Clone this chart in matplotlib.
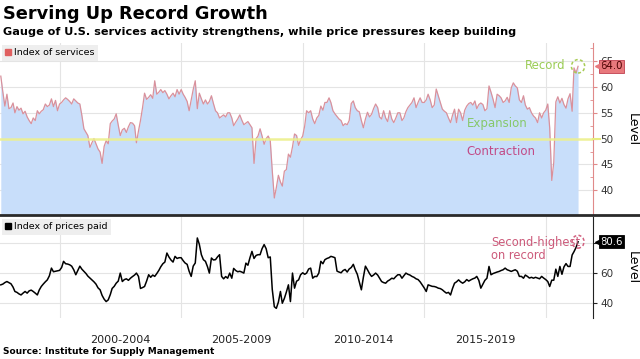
import pandas as pd
import matplotlib
matplotlib.use("Agg")
import matplotlib.pyplot as plt
import matplotlib.dates as mdates
from matplotlib.lines import Line2D
from matplotlib.patches import Ellipse

# monthly readings, Aug 1997 - May 2021
start_month = "1997-08-01"
services_index = [
    62.1, 59.0, 56.3, 58.6, 55.8,
    56.0, 56.9, 55.0, 56.2, 55.5, 55.9, 54.8, 55.3, 54.2, 53.5, 52.9, 54.0,
    53.5, 55.4, 54.8, 55.3, 55.6, 56.7, 56.2, 56.5, 57.7, 56.2, 57.4, 55.4,
    56.7, 57.0, 57.5, 57.9, 57.6, 57.2, 56.7, 57.7, 57.3, 56.9, 56.7, 54.5,
    51.9, 51.2, 50.6, 48.3, 49.2, 50.0, 49.0, 48.0, 47.4, 45.2, 48.5, 49.6,
    49.0, 52.9, 53.4, 53.8, 54.8, 52.6, 50.6, 51.7, 52.0, 51.2, 52.3, 53.1,
    53.0, 52.5, 49.2, 51.5, 53.5, 56.0, 58.8, 57.6, 58.0, 58.5, 57.8, 61.2,
    58.6, 59.0, 59.5, 58.9, 59.3, 58.6, 57.7, 58.3, 58.8, 58.1, 59.5, 58.6,
    59.5, 58.6, 58.0, 57.2, 55.4, 57.5, 59.5, 61.2, 55.8, 58.8, 57.7, 56.7,
    57.5, 56.7, 57.2, 58.3, 56.8, 55.4, 55.0, 54.0, 54.3, 54.6, 54.2, 55.0,
    55.0, 54.0, 52.5, 53.2, 53.8, 54.6, 53.6, 52.7, 53.0, 53.3, 52.7, 52.1,
    45.2, 50.0, 50.5, 51.9, 50.5, 48.9, 50.0, 50.5, 49.6, 43.8, 38.5, 40.5,
    42.9, 41.6, 40.8, 43.7, 44.0, 47.0, 46.4, 48.4, 50.9, 50.6, 48.7, 49.8,
    50.5, 52.5, 55.4, 55.0, 55.4, 53.8, 52.9, 54.0, 54.5, 56.3, 55.5, 57.0,
    57.0, 57.9, 57.0, 55.4, 54.8, 54.3, 53.8, 53.5, 52.5, 52.9, 52.7, 53.5,
    56.8, 57.3, 56.0, 55.4, 55.2, 53.5, 52.1, 53.8, 55.1, 54.2, 54.7, 55.8,
    56.7, 56.0, 54.2, 53.8, 55.4, 54.0, 53.3, 55.4, 53.8, 53.1, 54.0, 55.0,
    55.0, 53.5, 54.0, 55.2, 56.0, 56.5, 57.0, 57.9, 56.0, 57.0, 57.9, 57.0,
    57.0, 57.5, 58.6, 57.5, 56.0, 56.5, 59.6, 58.3, 57.0, 55.7, 55.3, 55.0,
    54.0, 53.1, 54.5, 55.7, 53.1, 55.7, 55.0, 53.5, 55.5, 56.3, 56.8, 57.0,
    56.5, 57.3, 55.8, 56.6, 56.9, 56.6, 55.4, 55.8, 60.2, 59.0, 57.6, 56.0,
    58.6, 58.3, 57.9, 57.0, 57.3, 58.0, 57.0, 59.8, 60.8, 60.2, 59.8, 57.5,
    57.0, 58.3, 56.5, 55.7, 56.0, 55.0, 54.4, 54.0, 53.1, 55.0, 54.0, 55.0,
    55.5, 56.7, 52.1, 41.9, 45.4, 57.1, 58.1, 56.9, 57.8, 56.6, 55.9, 57.7,
    58.7, 55.3, 63.7, 62.7, 64.0,
]
prices_paid = [
    52.0, 52.5, 53.5, 54.2, 53.5,
    52.7, 50.5, 47.6, 47.0, 46.0, 45.3, 46.5, 47.6, 46.5, 48.0, 48.5, 47.6,
    46.5, 45.3, 48.5, 50.9, 52.5, 54.0, 55.3, 58.0, 63.1, 60.7, 61.0, 61.3,
    61.6, 63.5, 67.6, 66.0, 65.8, 65.3, 64.4, 62.0, 58.7, 61.5, 64.4, 62.4,
    61.0, 59.5, 57.8, 56.5, 55.3, 54.0, 52.5, 50.0, 48.7, 45.0, 42.5, 40.9,
    42.0, 45.5, 49.6, 51.0, 53.1, 54.5, 59.8, 54.2, 55.5, 56.0, 55.0, 56.4,
    57.5, 58.5, 59.8, 57.6, 49.6, 50.2, 50.9, 54.5, 58.7, 57.0, 58.5, 57.6,
    59.5, 61.6, 64.0, 66.0, 67.1, 73.1, 70.5, 68.5, 67.1, 70.9, 69.5, 70.0,
    70.0, 68.0, 66.5, 65.6, 61.0, 57.6, 64.4, 66.5, 83.1, 78.9, 72.0, 68.7,
    67.6, 64.0, 59.8, 69.8, 68.5, 68.7, 70.5, 72.0, 57.6, 56.0, 57.5, 56.4,
    59.8, 56.4, 62.9, 61.5, 60.7, 61.0, 60.5, 59.8, 66.4, 65.0, 70.0, 74.2,
    69.5, 71.5, 72.0, 72.0, 76.0, 78.7, 76.0, 70.0, 70.5, 49.0, 37.5, 36.4,
    40.5, 47.6, 39.8, 43.0, 47.2, 52.0, 40.9, 59.8, 49.8, 54.4, 55.3, 58.7,
    60.0, 59.0, 59.8, 62.5, 63.1, 56.4, 57.6, 57.5, 59.8, 67.6, 66.0, 68.7,
    69.5, 70.0, 70.9, 70.5, 70.0, 61.1, 60.5, 60.0, 61.5, 62.2, 60.5, 62.5,
    63.5, 65.6, 62.0, 59.0, 54.0, 48.7, 57.0, 64.4, 62.0, 59.5, 57.6, 58.5,
    59.8, 58.5, 56.5, 54.2, 53.5, 53.1, 54.5, 55.3, 56.4, 56.0, 57.5, 58.7,
    58.7, 56.4, 58.0, 59.8, 59.0, 58.5, 57.6, 57.0, 56.0, 55.5, 54.0, 52.0,
    50.0, 47.6, 52.0, 51.5, 51.0, 50.9, 50.5, 49.8, 49.5, 48.7, 47.5, 46.5,
    47.0, 45.3, 49.5, 53.1, 54.0, 55.3, 54.0, 53.1, 54.0, 55.5, 54.5, 55.3,
    56.0, 56.5, 57.6, 55.0, 49.8, 52.5, 55.0, 56.4, 64.2, 58.7, 59.5, 60.0,
    60.5, 60.9, 61.5, 62.0, 63.1, 62.0, 61.5, 60.9, 61.5, 62.0, 61.0, 57.6,
    57.6, 56.4, 58.5, 57.6, 56.5, 57.0, 56.4, 57.0, 56.5, 56.0, 57.6, 56.5,
    55.5, 54.2, 50.9, 55.1, 55.1, 62.4, 57.6, 64.2, 59.0, 63.9, 66.1, 64.2,
    64.2, 71.8, 74.0, 76.8, 80.6,
]
period_labels = ["2000-2004", "2005-2009", "2010-2014", "2015-2019"]
period_mids = ["2002-07-01", "2007-07-01", "2012-07-01", "2017-07-01"]
grid_years = ["2000-01-01", "2005-01-01", "2010-01-01", "2015-01-01", "2020-01-01"]
services_ticks = [40, 45, 50, 55, 60, 65]
prices_ticks = [40, 60, 80]
prices_tick_labels = ["40", "60", ""]  # 80 sits under the value tag

dates = pd.date_range(start_month, periods=len(services_index), freq="MS")
xmin, xmax = pd.Timestamp("1997-07-20"), pd.Timestamp("2021-12-12")

fill_blue = "#c8defa"
pink_line = "#d9919c"
grid_c = "#e4e4e4"

fig = plt.figure(figsize=(6.4, 3.59), dpi=100)
ax1 = fig.add_axes([0, 0.401, 0.9266, 0.479])
ax2 = fig.add_axes([0, 0.1142, 0.9266, 0.2813])

for ax in (ax1, ax2):
    ax.set_xlim(xmin, xmax)
    for s in ("left", "top", "bottom"):
        ax.spines[s].set_visible(False)
    ax.yaxis.tick_right()
    ax.set_xticks(pd.to_datetime(grid_years))
    ax.xaxis.grid(True, color=grid_c, lw=0.8)
    ax.tick_params(axis="x", length=0, labelbottom=False)
    ax.tick_params(axis="y", labelsize=7.5, labelcolor="#333333", length=3, pad=2)
    ax.set_axisbelow(True)

# --- services panel
ax1.set_ylim(35.2, 68.5)
ax1.set_yticks(services_ticks)
ax1.set_yticks([42.5, 47.5, 52.5, 57.5, 62.5, 67.5], minor=True)
ax1.tick_params(axis="y", which="both", color="#e08a8a")
ax1.tick_params(axis="y", which="minor", length=2, direction="in")
ax1.spines["right"].set_color("#e08a8a")
for t in services_ticks:
    if t != 50:
        ax1.axhline(t, color=grid_c, lw=0.8, zorder=0)
ax1.fill_between(dates, services_index, 0, color=fill_blue, lw=0, zorder=1)
ax1.plot(dates, services_index, color=pink_line, lw=0.9, zorder=2)
ax1.axhline(50, color="#edf08c", lw=1.8, alpha=0.9, zorder=3)
ax1.plot([1.0, 1.012], [50, 50], transform=ax1.get_yaxis_transform(),
         color="#e8ec80", lw=1.5, clip_on=False, zorder=3)

ax1.text(dates[-1] - pd.Timedelta(days=185), 64.2, "Record", color="#9bcc55",
         fontsize=8.5, ha="right", va="center")
ax1.add_patch(Ellipse((mdates.date2num(dates[-1]), services_index[-1]), 200, 2.6,
                      fill=False, ls=(0, (2, 1.5)), ec="#a8cc55", lw=1.1, zorder=4))
ax1.text(pd.Timestamp("2018-01-01"), 52.9, "Expansion", color="#86c86a",
         fontsize=8.5, ha="center", va="center")
ax1.text(pd.Timestamp("2018-03-01"), 47.5, "Contraction", color="#c24a86",
         fontsize=8.5, ha="center", va="center")
ax1.annotate(f"{services_index[-1]:.1f}", xy=(1.012, services_index[-1]),
             xycoords=("axes fraction", "data"), fontsize=7.3, color="#4a0000",
             va="center", ha="left", zorder=6,
             bbox=dict(boxstyle="square,pad=0.15", fc="#e8787c", ec="#c04050", lw=0.6))
ax1.plot([1.009], [services_index[-1]], marker="<", ms=5, color="#e8787c",
         transform=ax1.get_yaxis_transform(), clip_on=False, zorder=6)
ax1.legend(handles=[Line2D([], [], marker="s", ls="none", color="#e06060", ms=5)],
           labels=["Index of services"], loc="upper left", fontsize=6.8,
           handlelength=0.6, handletextpad=0.3, borderpad=0.35,
           borderaxespad=0.2, frameon=True, facecolor="#eeeeee",
           edgecolor="none", framealpha=1, fancybox=False)

# --- prices panel
ax2.set_ylim(30, 97)
ax2.set_yticks(prices_ticks)
ax2.set_yticklabels(prices_tick_labels)
ax2.yaxis.grid(True, color=grid_c, lw=0.8)
ax2.tick_params(axis="y", color="#222222")
ax2.spines["right"].set_color("#222222")
ax2.plot(dates, prices_paid, color="black", lw=1.1, zorder=2)
ax2.add_patch(Ellipse((mdates.date2num(dates[-1]), prices_paid[-1]), 180, 8.5,
                      fill=False, ls=(0, (2, 1.5)), ec="#d2607f", lw=1.1, zorder=4))
ax2.text(pd.Timestamp("2017-10-01"), 84.5, "Second-highest\non record",
         color="#cc5a7a", fontsize=8.3, ha="left", va="top", linespacing=1.05)
ax2.annotate(f"{prices_paid[-1]:.1f}", xy=(1.012, prices_paid[-1]),
             xycoords=("axes fraction", "data"), fontsize=7.3, color="white",
             va="center", ha="left", zorder=6,
             bbox=dict(boxstyle="square,pad=0.15", fc="black", ec="black", lw=0.6))
ax2.plot([1.009], [prices_paid[-1]], marker="<", ms=5, color="black",
         transform=ax2.get_yaxis_transform(), clip_on=False, zorder=6)
ax2.legend(handles=[Line2D([], [], marker="s", ls="none", color="black", ms=5)],
           labels=["Index of prices paid"], loc="upper left", fontsize=6.8,
           handlelength=0.6, handletextpad=0.3, borderpad=0.35,
           borderaxespad=0.2, frameon=True, facecolor="#eeeeee",
           edgecolor="none", framealpha=1, fancybox=False)
ax2.set_xticks(pd.to_datetime(period_mids), minor=True)
ax2.set_xticklabels(period_labels, minor=True)
ax2.tick_params(axis="x", which="minor", length=0, pad=12, labelsize=8,
                labelcolor="#222222")

# divider between the panels
fig.add_artist(Line2D([0, 1], [0.4, 0.4], color="#2a2a2a", lw=2))

fig.text(632 / 640, 1 - 130 / 359, "Level", rotation=270, fontsize=9,
         ha="center", va="center")
fig.text(632 / 640, 1 - 268 / 359, "Level", rotation=270, fontsize=9,
         ha="center", va="center")

fig.text(0.004, 1 - 14 / 359, "Serving Up Record Growth", fontsize=12.8,
         fontweight="bold", va="center", ha="left")
fig.text(0.004, 1 - 32 / 359,
         "Gauge of U.S. services activity strengthens, while price pressures keep building",
         fontsize=8.1, fontweight="bold", va="center", ha="left")
fig.text(0.004, 1 - 352 / 359, "Source: Institute for Supply Management",
         fontsize=6.5, fontweight="bold", va="center", ha="left")

fig.savefig("out.png", dpi=100)
